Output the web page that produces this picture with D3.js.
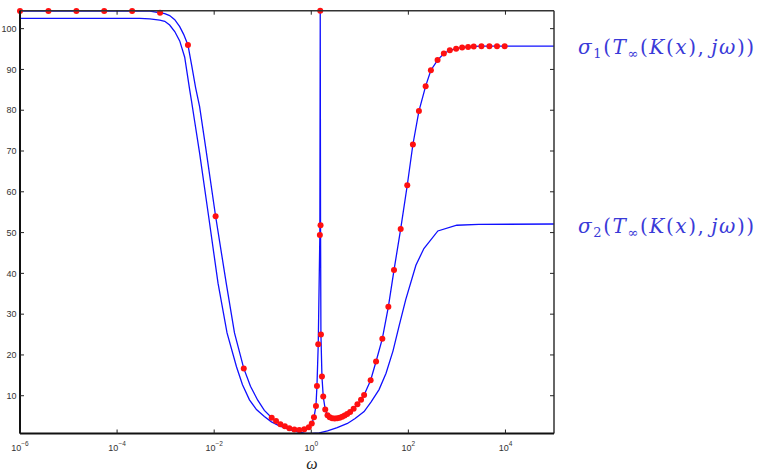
<!DOCTYPE html>
<html><head><meta charset="utf-8">
<script src="https://cdn.jsdelivr.net/npm/d3@7"></script>
<style>html,body{margin:0;padding:0;background:#fff;}svg{display:block;}</style>
</head><body>
<script>
// ---- data ----
const xTickValues = [1e-6, 1e-4, 1e-2, 1, 1e2, 1e4];
const yTickValues = [10, 20, 30, 40, 50, 60, 70, 80, 90, 100];

// sigma1 markers (red dots on the sigma1 curve)
const omegaMarks = [1e-6, 3.85e-6, 1.45e-5, 5.43e-5, 2.04e-4, 7.67e-4, 2.88e-3, 1.07e-2, 4.07e-2, 0.153,
  0.188, 0.231, 0.286, 0.353, 0.448, 0.567, 0.718, 0.889, 1.024, 1.136, 1.249, 1.309, 1.392, 1.502, 1.530,
  1.552, 1.581, 1.659, 1.763, 1.94, 2.16, 2.40, 2.70, 3.04, 3.42, 3.85, 4.33, 4.87, 5.49, 6.32, 7.46, 8.93,
  10.6, 12.25, 16.7, 21.6, 29.1, 38.7, 50.6, 69.5, 94.9, 124, 165, 227, 291, 400, 538, 715, 964, 1280,
  1700, 2220, 3200, 4670, 6690, 9630];
const sigma1Marks = [104.3, 104.3, 104.3, 104.3, 104.3, 103.9, 96, 54, 16.7, 4.6,
  3.8, 3.0, 2.5, 2.0, 1.7, 1.6, 1.8, 2.3, 3.2, 4.7, 7.5, 12.4, 22.6, 49.4, 104.4,
  51.8, 25, 14.7, 9.8, 6.6, 5.2, 4.7, 4.5, 4.4, 4.45, 4.6, 4.85, 5.15, 5.5, 6.0, 6.8, 7.9,
  9.0, 10.2, 13.8, 18.4, 24.0, 31.8, 40.8, 50.9, 61.6, 71.6, 79.8, 85.9, 89.8, 92.3, 93.9, 94.7, 95.1, 95.4,
  95.5, 95.65, 95.7, 95.7, 95.7, 95.7];

// extra points of the sigma1 line between markers
const omegaS1Extra = [4.72e-4, 9.59e-4, 1.21e-3, 1.54e-3, 1.95e-3, 2.35e-3, 3.44e-3, 4.15e-3, 5.01e-3, 6.65e-3,
  1.77e-2, 2.62e-2, 5.59e-2, 7.89e-2, 0.108, 1e5];
const sigma1Extra = [104.3, 103.7, 103.2, 102.2, 100.5, 98.6, 91.0, 85.5, 80.9, 71,
  37.6, 25.4, 12.3, 8.9, 6.4, 95.7];

// sigma2 line
const omegaS2 = [1e-6, 2.94e-4, 4.72e-4, 7.57e-4, 9.59e-4, 1.21e-3, 1.54e-3, 1.95e-3, 2.47e-3, 3.13e-3, 3.39e-3,
  3.96e-3, 5.01e-3, 7.68e-3, 1.20e-2, 1.84e-2, 2.88e-2, 3.83e-2, 5.33e-2, 7.43e-2, 0.108, 0.151, 0.220, 0.448,
  0.718, 1.0, 1.46, 2.16, 3.42, 5.56, 8.0, 12.25, 17.1, 24.9, 34.7, 48.3, 64.1, 88.0, 143, 209, 405, 995, 2820, 1e5];
const sigma2 = [102.5, 102.5, 102.4, 102.1, 101.8, 100.9, 99.3, 97, 93, 85, 82.5,
  77.3, 69.5, 54, 37.6, 25.4, 17.1, 12.7, 9.0, 6.6, 4.9, 3.6, 2.6, 1.3,
  0.85, 0.74, 0.9, 1.4, 2.2, 3.2, 4.4, 6.1, 8.5, 11.5, 15.5, 21, 27, 33.5, 42, 46.1, 50.4, 51.8, 52.0, 52.1];

// ---- drawing ----
const W = 765, H = 474;
const svg = d3.select("body").append("svg").attr("width", W).attr("height", H);
const L = 20, R = 554, T = 10.7, B = 433.5;
const x = d3.scaleLog().domain([1e-6, 1e5]).range([L, R]);
const y = d3.scaleLinear().domain([0.74, 104.4]).range([B, T]);

svg.append("defs").append("clipPath").attr("id", "clip")
  .append("rect").attr("x", L).attr("y", T - 1).attr("width", R - L).attr("height", B - T + 1);

const s1 = omegaMarks.map((o, i) => [o, sigma1Marks[i]])
  .concat(omegaS1Extra.map((o, i) => [o, sigma1Extra[i]]));
s1.sort((a, b) => a[0] - b[0]);
const s2 = omegaS2.map((o, i) => [o, sigma2[i]]);

const line = d3.line().x(d => x(d[0])).y(d => y(d[1]));
const g = svg.append("g").attr("clip-path", "url(#clip)");
g.append("path").attr("d", line(s2)).attr("fill", "none").attr("stroke", "#1010ff").attr("stroke-width", 1.3);
g.append("path").attr("d", line(s1)).attr("fill", "none").attr("stroke", "#1010ff").attr("stroke-width", 1.3);

svg.append("g").selectAll("circle").data(omegaMarks.map((o, i) => [o, sigma1Marks[i]]))
  .join("circle").attr("cx", d => x(d[0])).attr("cy", d => y(d[1])).attr("r", 3)
  .attr("fill", "#ff1010");

// axes box
svg.append("line").attr("x1", L).attr("x2", R).attr("y1", T).attr("y2", T).attr("stroke", "#333").attr("stroke-width", 1.5);
svg.append("line").attr("x1", R).attr("x2", R).attr("y1", T).attr("y2", B).attr("stroke", "#333").attr("stroke-width", 1.5);
svg.append("line").attr("x1", L).attr("x2", R).attr("y1", B).attr("y2", B).attr("stroke", "#111").attr("stroke-width", 2);
svg.append("line").attr("x1", L).attr("x2", L).attr("y1", T).attr("y2", B).attr("stroke", "#111").attr("stroke-width", 2);

// ticks (inward, all four sides)
const tl = 4;
xTickValues.forEach(v => {
  const px = x(v);
  svg.append("line").attr("x1", px).attr("x2", px).attr("y1", B).attr("y2", B - tl).attr("stroke", "#222");
  svg.append("line").attr("x1", px).attr("x2", px).attr("y1", T).attr("y2", T + tl).attr("stroke", "#222");
  const t = svg.append("text").attr("x", px).attr("y", 451).attr("text-anchor", "middle")
    .attr("font-family", "Liberation Sans, Arial, sans-serif").attr("font-size", 9).attr("fill", "#333");
  t.append("tspan").text("10");
  t.append("tspan").attr("dy", -5).attr("font-size", 6.5).text(String(Math.round(Math.log10(v))).replace("-", "\u2212"));
});
yTickValues.forEach(v => {
  const py = y(v);
  svg.append("line").attr("x1", L).attr("x2", L + tl).attr("y1", py).attr("y2", py).attr("stroke", "#222");
  svg.append("line").attr("x1", R).attr("x2", R - tl).attr("y1", py).attr("y2", py).attr("stroke", "#222");
  svg.append("text").attr("x", 16.5).attr("y", py + 3.2).attr("text-anchor", "end")
    .attr("font-family", "Liberation Sans, Arial, sans-serif").attr("font-size", 9).attr("fill", "#333").text(v);
});

// x-axis label
svg.append("text").attr("x", 312).attr("y", 469).attr("text-anchor", "middle")
  .attr("font-family", "Liberation Serif, serif").attr("font-style", "italic").attr("font-size", 16)
  .attr("fill", "#222").text("\u03c9");

// series labels
function seriesLabel(idx, yBase) {
  const t = svg.append("text").attr("x", 578).attr("y", yBase)
    .attr("font-family", "DejaVu Serif, serif").attr("font-size", 20).attr("letter-spacing", 1.6)
    .attr("fill", "#3a3ad8");
  const parts = [
    ["\u03c3", true, 0, 20], [String(idx), false, 4, 13], ["(", false, -4, 20],
    ["T", true, 0, 20], ["\u221e", false, 4, 13], ["(", false, -4, 20],
    ["K", true, 0, 20], ["(", false, 0, 20], ["x", true, 0, 20], ["),\u2009", false, 0, 20],
    ["j\u03c9", true, 0, 20], ["))", false, 0, 20]
  ];
  parts.forEach(p => {
    t.append("tspan").attr("dy", p[2]).attr("font-size", p[3])
      .attr("font-style", p[1] ? "italic" : "normal").text(p[0]);
  });
}
seriesLabel(1, 54);
seriesLabel(2, 233);
</script>
</body></html>
